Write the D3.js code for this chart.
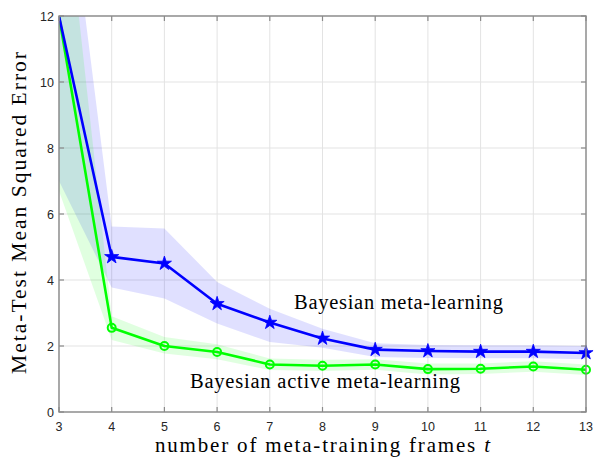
<!DOCTYPE html>
<html>
<head>
<meta charset="utf-8">
<script src="https://cdn.jsdelivr.net/npm/d3@7"></script>
<style>
  html, body { margin: 0; padding: 0; background: #ffffff; }
  svg { display: block; }
</style>
</head>
<body>
<svg id="chart" width="594" height="457"></svg>
<script>
// ---- data ----
const frames = [3, 4, 5, 6, 7, 8, 9, 10, 11, 12, 13];
const xTicks = [3, 4, 5, 6, 7, 8, 9, 10, 11, 12, 13];
const yTicks = [0, 2, 4, 6, 8, 10, 12];

const bmlMean  = [12, 4.70, 4.50, 3.28, 2.71, 2.23, 1.89, 1.85, 1.83, 1.83, 1.79];
const bmlUpper = [18.3, 5.62, 5.56, 3.94, 3.13, 2.52, 2.08, 2.03, 2.02, 2.02, 2.00];
const bmlLower = [7.0, 3.77, 3.44, 2.68, 2.12, 1.95, 1.67, 1.64, 1.63, 1.63, 1.60];

const bamlMean  = [12, 2.55, 2.00, 1.82, 1.44, 1.40, 1.44, 1.30, 1.31, 1.38, 1.28];
const bamlUpper = [17.5, 2.90, 2.27, 2.05, 1.62, 1.58, 1.60, 1.47, 1.47, 1.54, 1.44];
const bamlLower = [6.7, 2.18, 1.77, 1.60, 1.27, 1.24, 1.28, 1.14, 1.15, 1.22, 1.12];

const labelBML = "Bayesian meta-learning";
const labelBAML = "Bayesian active meta-learning";
const xTitle = "number of meta-training frames ";
const xTitleVar = "t";
const yTitle = "Meta-Test Mean Squared Error";

// ---- layout ----
const svg = d3.select("#chart");
const L = 59, R = 586, T = 16, B = 412;
const x = d3.scaleLinear().domain([3, 13]).range([L, R]);
const y = d3.scaleLinear().domain([0, 12]).range([B, T]);

const serif = "'Liberation Serif', 'Times New Roman', serif";
const sans = "'Liberation Sans', Arial, Helvetica, sans-serif";
const axisColor = "#8a8a8a";
const textColor = "#262626";

svg.append("defs").append("clipPath").attr("id", "plotclip")
  .append("rect").attr("x", L).attr("y", T).attr("width", R - L).attr("height", B - T);

// grid
const grid = svg.append("g");
grid.selectAll("line.gx").data(xTicks).join("line")
  .attr("x1", d => x(d)).attr("x2", d => x(d)).attr("y1", T).attr("y2", B)
  .attr("stroke", "#e3e3e3").attr("stroke-width", 1);
grid.selectAll("line.gy").data(yTicks).join("line")
  .attr("y1", d => y(d)).attr("y2", d => y(d)).attr("x1", L).attr("x2", R)
  .attr("stroke", "#e3e3e3").attr("stroke-width", 1);

// bands + lines
const plot = svg.append("g").attr("clip-path", "url(#plotclip)");
const idx = frames.map((d, i) => i);

const area = (lo, hi) => d3.area()
  .x(i => x(frames[i])).y0(i => y(lo[i])).y1(i => y(hi[i]));
const line = (m) => d3.line().x(i => x(frames[i])).y(i => y(m[i]));

plot.append("path").datum(idx).attr("d", area(bmlLower, bmlUpper))
  .attr("fill", "rgb(0,0,255)").attr("fill-opacity", 0.12).attr("stroke", "none");
plot.append("path").datum(idx).attr("d", area(bamlLower, bamlUpper))
  .attr("fill", "rgb(0,255,0)").attr("fill-opacity", 0.12).attr("stroke", "none");

plot.append("path").datum(idx).attr("d", line(bamlMean))
  .attr("fill", "none").attr("stroke", "#00ff00").attr("stroke-width", 2.6).attr("stroke-linejoin", "round");
plot.append("path").datum(idx).attr("d", line(bmlMean))
  .attr("fill", "none").attr("stroke", "#0000ff").attr("stroke-width", 2.6).attr("stroke-linejoin", "round");

// markers (skip first point which sits at the corner)
const markIdx = idx.slice(1);
svg.append("g").selectAll("circle").data(markIdx).join("circle")
  .attr("cx", i => x(frames[i])).attr("cy", i => y(bamlMean[i])).attr("r", 4)
  .attr("fill", "none").attr("stroke", "#00ff00").attr("stroke-width", 2);
const star = d3.symbol().type(d3.symbolStar).size(62);
svg.append("g").selectAll("path").data(markIdx).join("path")
  .attr("transform", i => `translate(${x(frames[i])},${y(bmlMean[i])})`)
  .attr("d", star).attr("fill", "#0000ff").attr("stroke", "#0000ff").attr("stroke-width", 0.8);

// axes box
const ax = svg.append("g");
ax.append("rect").attr("x", L).attr("y", T).attr("width", R - L).attr("height", B - T)
  .attr("fill", "none").attr("stroke", axisColor).attr("stroke-width", 1.4);
const tl = 5;
ax.selectAll("line.tb").data(xTicks).join("line")
  .attr("x1", d => x(d)).attr("x2", d => x(d)).attr("y1", B).attr("y2", B - tl)
  .attr("stroke", axisColor).attr("stroke-width", 1.2);
ax.selectAll("line.tt").data(xTicks).join("line")
  .attr("x1", d => x(d)).attr("x2", d => x(d)).attr("y1", T).attr("y2", T + tl)
  .attr("stroke", axisColor).attr("stroke-width", 1.2);
ax.selectAll("line.tl").data(yTicks).join("line")
  .attr("y1", d => y(d)).attr("y2", d => y(d)).attr("x1", L).attr("x2", L + tl)
  .attr("stroke", axisColor).attr("stroke-width", 1.2);
ax.selectAll("line.tr").data(yTicks).join("line")
  .attr("y1", d => y(d)).attr("y2", d => y(d)).attr("x1", R).attr("x2", R - tl)
  .attr("stroke", axisColor).attr("stroke-width", 1.2);

// tick labels
ax.selectAll("text.xl").data(xTicks).join("text")
  .attr("x", d => x(d)).attr("y", 430.5).attr("text-anchor", "middle")
  .attr("font-family", sans).attr("font-size", 12.5).attr("fill", textColor)
  .text(d => d);
ax.selectAll("text.yl").data(yTicks).join("text")
  .attr("x", L - 5).attr("y", d => y(d) + 4.5).attr("text-anchor", "end")
  .attr("font-family", sans).attr("font-size", 12.5).attr("fill", textColor)
  .text(d => d);

// axis titles
const xt = svg.append("text").attr("x", 155).attr("y", 452)
  .attr("font-family", serif).attr("font-size", 21).attr("fill", "#000")
  .attr("textLength", 335).attr("lengthAdjust", "spacing");
xt.append("tspan").text(xTitle);
xt.append("tspan").attr("font-style", "italic").text(xTitleVar);

svg.append("text").attr("transform", `translate(26,${(T + B) / 2 - 1}) rotate(-90)`)
  .attr("text-anchor", "middle").attr("font-family", serif).attr("font-size", 21.5).attr("fill", "#000")
  .attr("textLength", 322).attr("lengthAdjust", "spacing")
  .text(yTitle);

// annotations
svg.append("text").attr("x", 294).attr("y", 308.5).attr("font-family", serif)
  .attr("font-size", 20.5).attr("fill", "#000")
  .attr("textLength", 209).attr("lengthAdjust", "spacing").text(labelBML);
svg.append("text").attr("x", 190).attr("y", 388).attr("font-family", serif)
  .attr("font-size", 20.5).attr("fill", "#000")
  .attr("textLength", 270).attr("lengthAdjust", "spacing").text(labelBAML);
</script>
</body>
</html>
